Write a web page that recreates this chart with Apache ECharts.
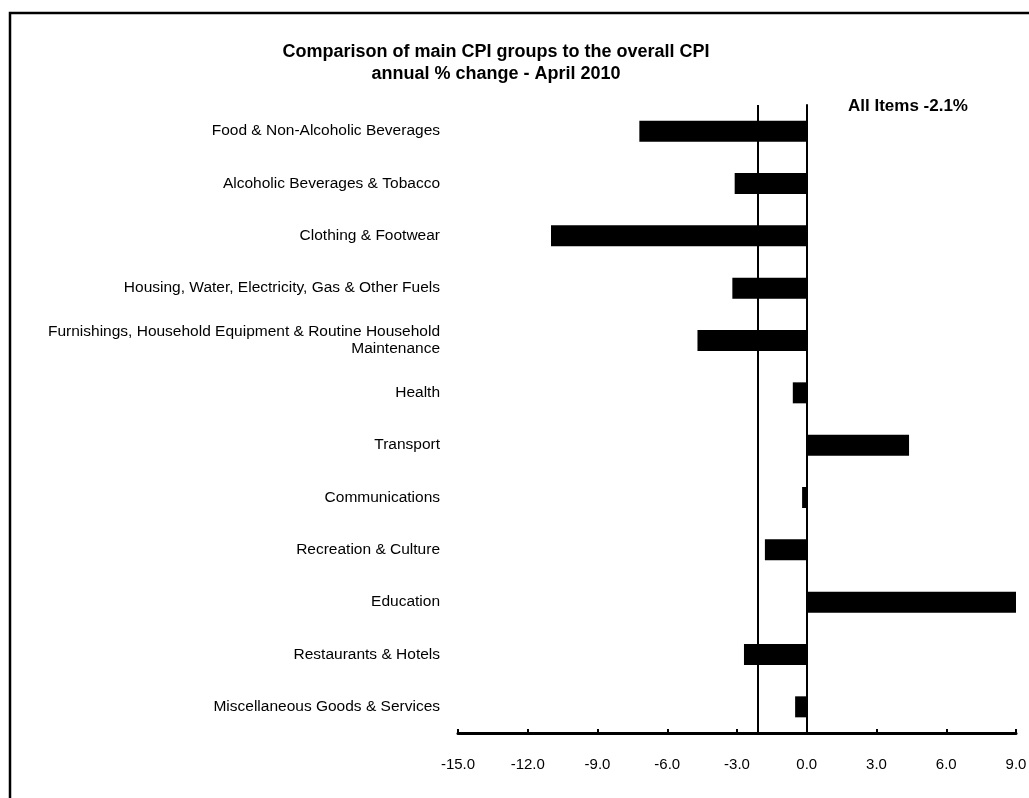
<!DOCTYPE html><html><head><meta charset="utf-8">
<script src="https://cdn.jsdelivr.net/npm/echarts@6/dist/echarts.min.js"></script>
<style>html,body{margin:0;background:#fff}#c{width:1029px;height:798px}</style></head><body><div id="c"></div>
<script>
const categories=["Food & Non-Alcoholic Beverages","Alcoholic Beverages & Tobacco","Clothing & Footwear","Housing, Water, Electricity, Gas & Other Fuels","Furnishings, Household Equipment & Routine Household\nMaintenance","Health","Transport","Communications","Recreation & Culture","Education","Restaurants & Hotels","Miscellaneous Goods & Services"];
const values=[-7.2,-3.1,-11.0,-3.2,-4.7,-0.6,4.4,-0.2,-1.8,9.0,-2.7,-0.5];
const allItems=-2.1;
const font='Liberation Sans';
const ch=echarts.init(document.getElementById('c'));
ch.setOption({
 animation:false,
 textStyle:{fontFamily:font},
 graphic:[{type:'rect',shape:{x:10,y:13,width:1040,height:800},style:{fill:'none',stroke:'#000',lineWidth:2.5}},
  {type:'text',left:848,top:98,style:{text:'All Items '+allItems.toFixed(1)+'%',font:'bold 17px "Liberation Sans"',fill:'#000'}}],
 title:{text:'Comparison of main CPI groups to the overall CPI\nannual % change - April 2010',left:491,textAlign:'center',top:36,textStyle:{fontFamily:font,fontSize:18,fontWeight:'bold',lineHeight:22,color:'#000'}},
 grid:{left:458,right:13,top:105,bottom:65,containLabel:false,outerBoundsMode:'none'},
 xAxis:{type:'value',min:-15,max:9,interval:3,splitLine:{show:false},
  axisLine:{show:true,onZero:false,lineStyle:{color:'#000',width:3}},
  axisTick:{show:true,inside:true,length:4,lineStyle:{color:'#000',width:2}},
  axisLabel:{formatter:v=>v.toFixed(1),color:'#000',fontSize:15,margin:24}},
 yAxis:{type:'category',inverse:true,data:categories,
  axisLine:{show:true,onZero:true,lineStyle:{color:'#000',width:2}},
  axisTick:{show:false},
  axisLabel:{color:'#000',fontSize:15.5,margin:18,align:'right',lineHeight:17}},
 series:[{type:'bar',data:values,barWidth:21,itemStyle:{color:'#000'},
  markLine:{symbol:'none',silent:true,label:{show:false},lineStyle:{color:'#000',width:2,type:'solid'},data:[{xAxis:allItems}]}}],
});
</script></body></html>
